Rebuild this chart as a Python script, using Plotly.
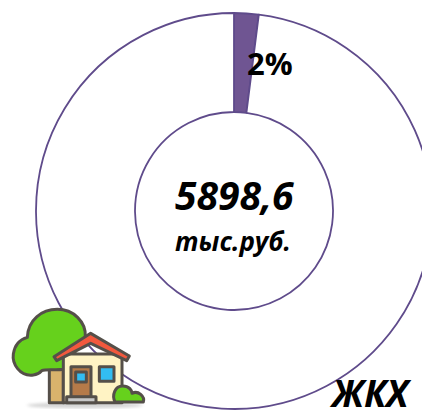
import base64
import plotly.graph_objects as go

# data
slice_labels = ["ЖКХ", "Остальное"]
slice_values = [2, 98]
slice_colors = ["#6F5592", "#FFFFFF"]
share_label = "2%"
total_value = "5898,6"
total_unit = "тыс.руб."
title_label = "ЖКХ"

W, H = 432, 417
L, T, B = 36, 13, 8
PW, PH = W - L, H - T - B
FONT = "Open Sans"


def px(x):
    return (x - L) / PW


def py(y):
    return 1 - (y - T) / PH


icon_svg = """<svg xmlns="http://www.w3.org/2000/svg" width="480" height="411" viewBox="0 0 480 411">
<defs><filter id="b"><feGaussianBlur stdDeviation="2"/></filter>
<filter id="s"><feGaussianBlur stdDeviation="5"/></filter></defs>
<ellipse cx="255" cy="376" rx="175" ry="9" fill="#d4d4d4" filter="url(#s)"/>
<g filter="url(#b)" stroke="#555049" stroke-width="9" stroke-linejoin="round">
<rect x="148" y="262" width="42" height="106" fill="#D9B36C"/>
<path d="M100 285 C58 290 36 250 40 222 C44 195 60 178 82 172 C84 120 125 88 172 88 C220 88 258 125 256 170 L190 268 C170 272 140 266 125 272 C118 280 110 284 100 285Z" fill="#66D11F"/>
<rect x="190" y="222" width="176" height="146" fill="#FFF3C4"/>
<path d="M162 230 L272 160 L388 228 L380 242 L272 190 L170 242Z" fill="#F2593E"/>
<rect x="213" y="260" width="60" height="92" fill="#B57A48"/>
<rect x="227" y="276" width="32" height="30" fill="#33BDF2"/>
<rect x="298" y="260" width="44" height="44" fill="#33BDF2"/>
<rect x="200" y="350" width="88" height="18" fill="#C8C8C8"/>
<path d="M345 366 C335 345 345 318 368 318 C388 318 396 332 396 340 C415 330 435 350 430 366Z" fill="#66D11F"/>
</g></svg>"""
icon_uri = "data:image/svg+xml;base64," + base64.b64encode(icon_svg.encode()).decode()

fig = go.Figure(
    go.Pie(
        labels=slice_labels,
        values=slice_values,
        hole=0.5,
        sort=False,
        direction="clockwise",
        rotation=0,
        textinfo="none",
        hoverinfo="skip",
        showlegend=False,
        marker=dict(colors=slice_colors, line=dict(color="#5F4B8B", width=1.8)),
    )
)


def note(text, x, y, size, italic=True):
    fig.add_annotation(
        text=text, x=px(x), y=py(y), xref="paper", yref="paper", showarrow=False,
        xanchor="center", yanchor="middle",
        font=dict(family=FONT, size=size, color="#000000", weight="bold",
                  style="italic" if italic else "normal"),
    )


note(share_label, 270, 63, 31, italic=False)
note(total_value, 234, 194, 39)
note(total_unit, 233, 241, 26)
note(title_label, 370, 392, 37)

fig.add_layout_image(
    source=icon_uri, xref="paper", yref="paper", x=px(0), y=py(280),
    sizex=160 / PW, sizey=137 / PH, xanchor="left", yanchor="top",
    sizing="stretch", layer="above",
)

fig.update_layout(
    width=W, height=H, autosize=False,
    margin=dict(l=L, r=0, t=T, b=B, pad=0),
    paper_bgcolor="#FFFFFF", plot_bgcolor="#FFFFFF",
)

fig.write_html(
    "out.html",
    config={"displayModeBar": False},
    post_script="document.documentElement.style.overflow='hidden';document.body.style.overflow='hidden';document.body.style.margin='0';",
)
